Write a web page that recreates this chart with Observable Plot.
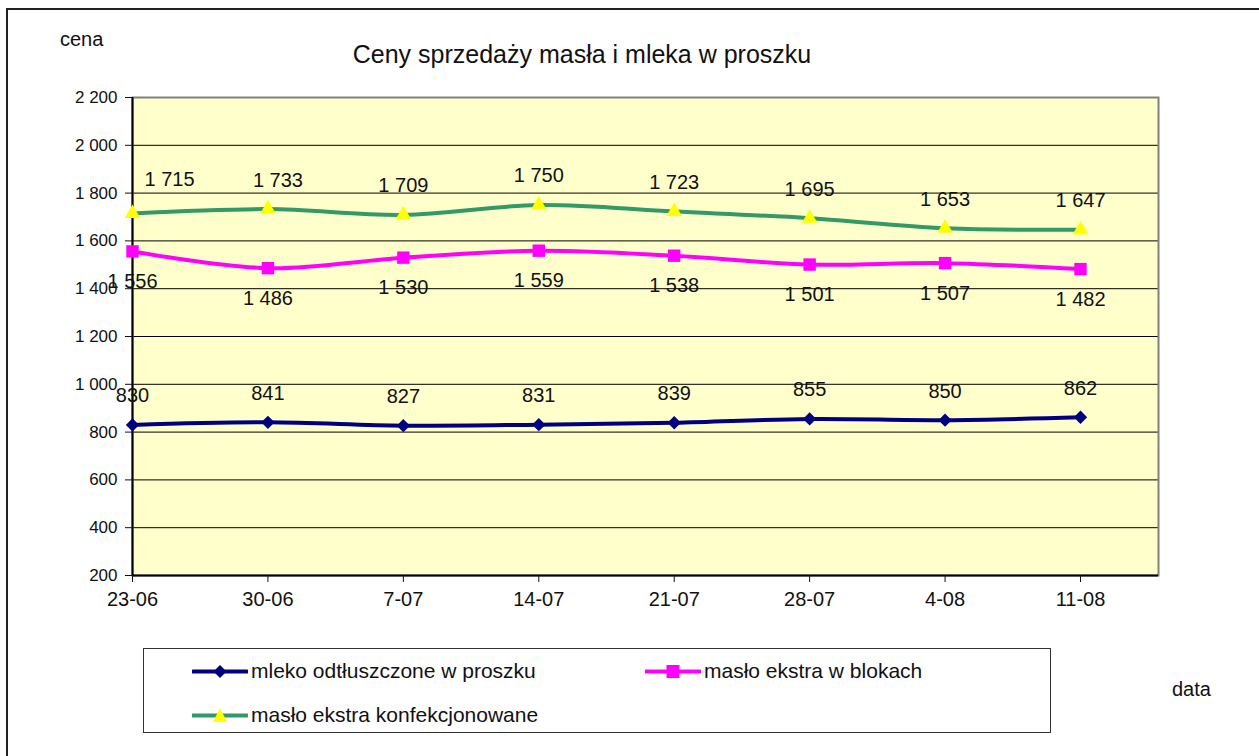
<!DOCTYPE html>
<html>
<head>
<meta charset="utf-8">
<script src="https://cdn.jsdelivr.net/npm/d3@7"></script>
<script src="https://cdn.jsdelivr.net/npm/@observablehq/plot@0.6"></script>
<style>
  body { margin: 0; background: #fff; font-family: "Liberation Sans", Arial, sans-serif; }
  #wrap { position: relative; width: 1259px; height: 756px; overflow: hidden; }
  #chart { position: absolute; left: 0; top: 0; }
  .abs { position: absolute; white-space: nowrap; color: #111; }
  #outer { position: absolute; left: 6px; top: 8px; width: 1300px; height: 800px; border-left: 2px solid #222; border-top: 2px solid #222; }
  #legend { position: absolute; left: 143px; top: 648px; width: 906px; height: 83px; border: 1.5px solid #333; background: #fff; }
  .item { position: absolute; display: flex; align-items: center; font-size: 21px; color: #111; }
  .item svg { display: block; margin-right: 3px; }
</style>
</head>
<body>
<div id="wrap">
  <div id="outer"></div>
  <div id="chart"></div>
  <div class="abs" style="left:582px; top:54px; transform:translate(-50%,-50%); font-size:25px;">Ceny sprzedaży masła i mleka w proszku</div>
  <div class="abs" style="left:60px; top:28px; font-size:20px;">cena</div>
  <div class="abs" style="left:1172px; top:678px; font-size:20px;">data</div>
  <div id="legend"></div>
</div>
<script>
const dates = ["23-06", "30-06", "7-07", "14-07", "21-07", "28-07", "4-08", "11-08"];
const mleko = [830, 841, 827, 831, 839, 855, 850, 862];
const maslo = [1556, 1486, 1530, 1559, 1538, 1501, 1507, 1482];
const konf = [1715, 1733, 1709, 1750, 1723, 1695, 1653, 1647];
const seriesNames = ["mleko odtłuszczone w proszku", "masło ekstra w blokach", "masło ekstra konfekcjonowane"];
const yTicks = [200, 400, 600, 800, 1000, 1200, 1400, 1600, 1800, 2000, 2200];

const fmt = v => d3.format(",")(v).replace(/,/g, " ");
const rows = (vals) => vals.map((v, i) => ({i, v}));
const rM = rows(mleko), rB = rows(maslo), rK = rows(konf);

const NAVY = "#000080", MAG = "#FF00FF", GREEN = "#339966", YEL = "#FFFF00";

const plot = Plot.plot({
  width: 1259,
  height: 756,
  marginLeft: 132,
  marginRight: 101,
  marginTop: 97,
  marginBottom: 181,
  style: {fontFamily: "Liberation Sans, Arial, sans-serif", background: "transparent", color: "#111"},
  x: {domain: [0, 7.576], type: "linear"},
  y: {domain: [200, 2200]},
  marks: [
    Plot.frame({fill: "#FFFFCC", stroke: null}),
    Plot.ruleY(yTicks.slice(1, -1), {stroke: "#000", strokeWidth: 1}),
    Plot.frame({stroke: "#808080", strokeWidth: 2}),
    Plot.ruleX([0], {stroke: "#000", strokeWidth: 2}),
    Plot.ruleY([200], {stroke: "#000", strokeWidth: 2}),
    Plot.axisY({ticks: yTicks, tickFormat: fmt, tickSize: 7, tickPadding: 8, fontSize: 17, label: null}),
    Plot.axisX({ticks: d3.range(dates.length), tickFormat: i => dates[i], tickSize: 7, tickPadding: 9, fontSize: 20, label: null}),
    Plot.line(rK, {x: "i", y: "v", stroke: GREEN, strokeWidth: 4, curve: "catmull-rom"}),
    Plot.line(rB, {x: "i", y: "v", stroke: MAG, strokeWidth: 4, curve: "catmull-rom"}),
    Plot.line(rM, {x: "i", y: "v", stroke: NAVY, strokeWidth: 4, curve: "catmull-rom"}),
    Plot.dot(rK, {x: "i", y: "v", symbol: "triangle", fill: YEL, stroke: null, r: 5.8}),
    Plot.dot(rB, {x: "i", y: "v", symbol: "square", fill: MAG, stroke: null, r: 7}),
    Plot.dot(rM, {x: "i", y: "v", symbol: "diamond2", fill: NAVY, stroke: null, r: 6}),
    Plot.text(rK, {filter: d => d.i === 0, x: "i", y: "v", text: d => fmt(d.v), dx: 37, dy: -34, fontSize: 20, fill: "#111"}),
    Plot.text(rK, {filter: d => d.i === 1, x: "i", y: "v", text: d => fmt(d.v), dx: 10, dy: -29, fontSize: 20, fill: "#111"}),
    Plot.text(rK, {filter: d => d.i > 1, x: "i", y: "v", text: d => fmt(d.v), dy: -29, fontSize: 20, fill: "#111"}),
    Plot.text(rB, {x: "i", y: "v", text: d => fmt(d.v), dy: 30, fontSize: 20, fill: "#111"}),
    Plot.text(rM, {x: "i", y: "v", text: d => fmt(d.v), dy: -29, fontSize: 20, fill: "#111"})
  ]
});
document.getElementById("chart").appendChild(plot);

// legend
const legend = document.getElementById("legend");
const swatch = (color, marker) => {
  let m = "";
  if (marker === "diamond") m = `<path d="M28,4 L34.5,10.5 L28,17 L21.5,10.5 Z" fill="${color}"/>`;
  if (marker === "square") m = `<rect x="21.5" y="4" width="13" height="13" fill="${color}"/>`;
  if (marker === "triangle") m = `<path d="M28,3 L35,17 L21,17 Z" fill="${YEL}"/>`;
  return `<svg width="56" height="21"><line x1="1" x2="55" y1="10.5" y2="10.5" stroke="${color}" stroke-width="4" stroke-linecap="round"/>${m}</svg>`;
};
const items = [
  {name: seriesNames[0], color: NAVY, marker: "diamond", left: 48, top: 10},
  {name: seriesNames[1], color: MAG, marker: "square", left: 501, top: 10},
  {name: seriesNames[2], color: GREEN, marker: "triangle", left: 48, top: 54}
];
for (const it of items) {
  const d = document.createElement("div");
  d.className = "item";
  d.style.left = it.left + "px";
  d.style.top = it.top + "px";
  d.innerHTML = swatch(it.color, it.marker) + `<span>${it.name}</span>`;
  legend.appendChild(d);
}
</script>
</body>
</html>
